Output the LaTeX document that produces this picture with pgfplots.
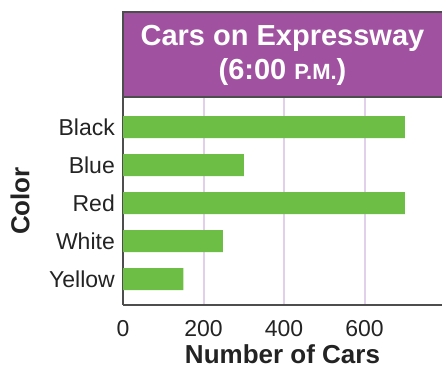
\documentclass[border=0pt]{standalone}
\usepackage{pgfplots}
\pgfplotsset{compat=1.18}
\usepackage{fontspec}
\setmainfont{Liberation Sans}
\definecolor{barGreen}{RGB}{108,190,69}
\definecolor{boxPurple}{RGB}{160,82,160}
\definecolor{gridPurple}{RGB}{226,208,234}
\definecolor{axisGray}{RGB}{77,77,77}
\definecolor{textGray}{RGB}{35,35,35}

\begin{document}
\begin{tikzpicture}
\useasboundingbox (0,0) rectangle (442pt,367pt);
\begin{axis}[
    at={(123pt,62pt)}, anchor=south west,
    scale only axis, width=319pt, height=208pt,
    xbar, bar width=22pt,
    xmin=0, xmax=792.5,
    ymin=-0.68, ymax=4.79,
    ytick={0,1,2,3,4},
    yticklabels={Yellow,White,Red,Blue,Black},
    xtick={0,200,400,600},
    xmajorgrids,
    major grid style={draw=gridPurple, line width=2pt},
    axis x line*=bottom, axis y line*=left,
    hide obscured x ticks=false,
    axis line style={draw=axisGray, line width=1.5pt, -},
    major tick length=0pt,
    /pgf/number format/assume math mode=true,
    tick label style={font=\fontsize{23}{23}\selectfont, text=textGray},
    xticklabel style={anchor=base, yshift=-31pt},
    yticklabel style={anchor=east, inner sep=0pt, xshift=-8pt},
    xlabel={Number of Cars},
    ylabel={Color},
    every axis x label/.style={at={(rel axis cs:0.5,0)}, anchor=base, yshift=-58pt,
        font=\bfseries\fontsize{26}{26}\selectfont, text=textGray},
    every axis y label/.style={at={(axis description cs:-0.323,0.5)}, anchor=center, rotate=90,
        font=\bfseries\fontsize{26}{26}\selectfont, text=textGray},
    clip=false,
    after end axis/.code={
        \draw[fill=boxPurple, draw=axisGray, line width=1.2pt]
            (rel axis cs:0,1) rectangle (rel axis cs:1.05,1.409);
        \node[text=white, align=center, font=\bfseries\fontsize{29}{34}\selectfont]
            at (rel axis cs:0.5,1.2) {Cars on Expressway\\(6:00 {\fontsize{22}{22}\selectfont P.M.})};
    },
]
\addplot[fill=barGreen, draw=none] coordinates {(150,0) (248,1) (700,2) (300,3) (700,4)};
\end{axis}
\end{tikzpicture}
\end{document}
